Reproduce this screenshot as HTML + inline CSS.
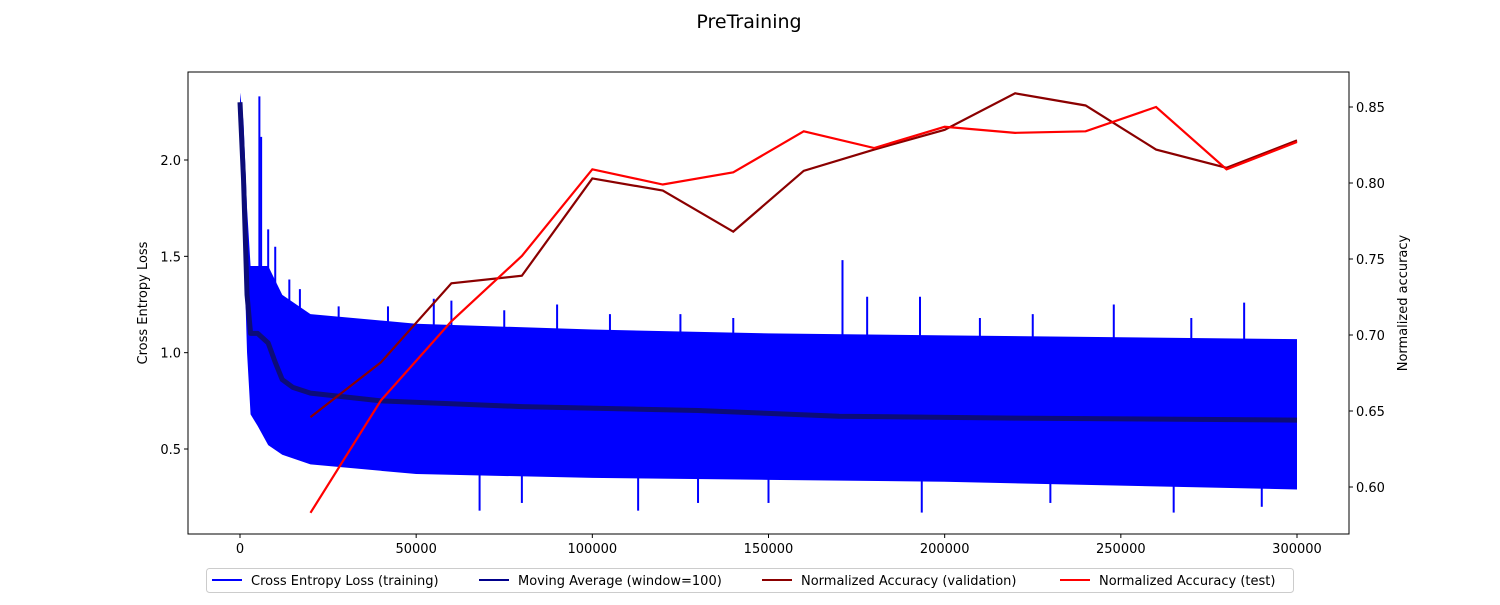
<!DOCTYPE html>
<html><head><meta charset="utf-8"><style>
body{margin:0;background:#fff;font-family:"Liberation Sans","DejaVu Sans",sans-serif;}
svg text{font-family:"DejaVu Sans","Liberation Sans",sans-serif;}
</style></head><body>
<svg id="chart" width="1500" height="600" xmlns="http://www.w3.org/2000/svg">
<text x="749" y="28" font-size="19" text-anchor="middle">PreTraining</text>
<g id="plot"></g>
</svg>
<script>
// ---- data ----
const accSteps = [20000,40000,60000,80000,100000,120000,140000,160000,180000,200000,220000,240000,260000,280000,300000];
const accValidation = [0.646,0.682,0.734,0.739,0.803,0.795,0.768,0.808,0.822,0.835,0.859,0.851,0.822,0.810,0.828];
const accTest = [0.583,0.657,0.709,0.752,0.809,0.799,0.807,0.834,0.823,0.837,0.833,0.834,0.850,0.809,0.827];
const bandSteps = [0,1000,2000,3000,5000,8000,12000,20000,50000,100000,150000,200000,250000,300000];
const lossUpper = [2.35,2.2,1.75,1.45,1.45,1.45,1.3,1.2,1.15,1.12,1.1,1.09,1.08,1.07];
const lossLower = [2.2,1.6,1.0,0.68,0.62,0.52,0.47,0.42,0.37,0.35,0.34,0.33,0.31,0.29];
const spikeSteps = [5500,6000,8000,10000,14000,17000,28000,42000,55000,60000,75000,90000,105000,125000,140000,171000,178000,193000,210000,225000,248000,270000,285000,68000,80000,113000,130000,150000,193500,230000,265000,290000];
const spikeValues = [2.33,2.12,1.64,1.55,1.38,1.33,1.24,1.24,1.28,1.27,1.22,1.25,1.2,1.2,1.18,1.48,1.29,1.29,1.18,1.2,1.25,1.18,1.26,0.18,0.22,0.18,0.22,0.22,0.17,0.22,0.17,0.2];
const maSteps = [0,1000,2000,3000,5000,8000,10000,12000,15000,20000,40000,80000,130000,170000,220000,300000];
const maValues = [2.3,1.9,1.3,1.1,1.1,1.05,0.95,0.86,0.82,0.79,0.75,0.72,0.70,0.67,0.66,0.65];
const xTicks = [0,50000,100000,150000,200000,250000,300000];
const yLeftTicks = [0.5,1.0,1.5,2.0];
const yRightTicks = [0.60,0.65,0.70,0.75,0.80,0.85];
// ---- axes ----
const L=188,R=1349,T=72,B=534;
const sx=v=>240+v*(1057/300000);
const sy=v=>449-(v-0.5)*(289/1.5);
const sy2=v=>107+(0.85-v)*1520;
const NS="http://www.w3.org/2000/svg";
const g=document.getElementById('plot');
function mk(tag,attrs,parent){const e=document.createElementNS(NS,tag);for(const k in attrs)e.setAttribute(k,attrs[k]);(parent||g).appendChild(e);return e;}
// band
let pts=bandSteps.map((s,i)=>sx(s)+','+sy(lossUpper[i]));
for(let i=bandSteps.length-1;i>=0;i--)pts.push(sx(bandSteps[i])+','+sy(lossLower[i]));
let band=mk('polygon',{points:pts.join(' '),fill:'#0000ff'});


spikeSteps.forEach((s,i)=>{const v=spikeValues[i];const base=v>0.8?0.9:0.5;
 const l=mk('line',{x1:sx(s),x2:sx(s),y1:sy(base),y2:sy(v),stroke:'#0000ff','stroke-width':2});
 
 });
// moving average
let ma=mk('polyline',{points:maSteps.map((s,i)=>sx(s)+','+sy(maValues[i])).join(' '),fill:'none',stroke:'#0c0c78','stroke-width':5,'stroke-linejoin':'round'});


let v1=mk('polyline',{points:accSteps.map((s,i)=>sx(s)+','+sy2(accValidation[i])).join(' '),fill:'none',stroke:'#8b0000','stroke-width':2.2});


let t1=mk('polyline',{points:accSteps.map((s,i)=>sx(s)+','+sy2(accTest[i])).join(' '),fill:'none',stroke:'#ff0000','stroke-width':2.2});


// frame
let fr=mk('rect',{x:L,y:T,width:R-L,height:B-T,fill:'none',stroke:'#000','stroke-width':1});


xTicks.forEach(v=>{mk('line',{x1:sx(v),x2:sx(v),y1:B,y2:B+4,stroke:'#000'});
 const t=mk('text',{x:sx(v),y:B+19,'font-size':13,'text-anchor':'middle'});t.textContent=v;
 
 });
yLeftTicks.forEach(v=>{mk('line',{x1:L-4,x2:L,y1:sy(v),y2:sy(v),stroke:'#000'});
 const t=mk('text',{x:L-7,y:sy(v)+5,'font-size':13,'text-anchor':'end'});t.textContent=v.toFixed(1);
 
 });
yRightTicks.forEach(v=>{mk('line',{x1:R,x2:R+4,y1:sy2(v),y2:sy2(v),stroke:'#000'});
 const t=mk('text',{x:R+7,y:sy2(v)+5,'font-size':13});t.textContent=v.toFixed(2);
 
 });
let yl=mk('text',{x:147,y:303,'font-size':13,'text-anchor':'middle',transform:'rotate(-90 147 303)'});yl.textContent='Cross Entropy Loss';


let yr=mk('text',{x:1407,y:303,'font-size':13,'text-anchor':'middle',transform:'rotate(-90 1407 303)'});yr.textContent='Normalized accuracy';


// legend
let lg=mk('rect',{x:206.5,y:568.5,width:1087,height:24,fill:'#fff',stroke:'#ccc',rx:3});


const legItems=[['Cross Entropy Loss (training)','#0000ff',212],['Moving Average (window=100)','#00008b',479],['Normalized Accuracy (validation)','#8b0000',762],['Normalized Accuracy (test)','#ff0000',1060]];
legItems.forEach(([lab,c,x])=>{mk('line',{x1:x,x2:x+30,y1:580,y2:580,stroke:c,'stroke-width':2});
 const t=mk('text',{x:x+39,y:585,'font-size':13});t.textContent=lab;
 
 });
</script>
</body></html>
